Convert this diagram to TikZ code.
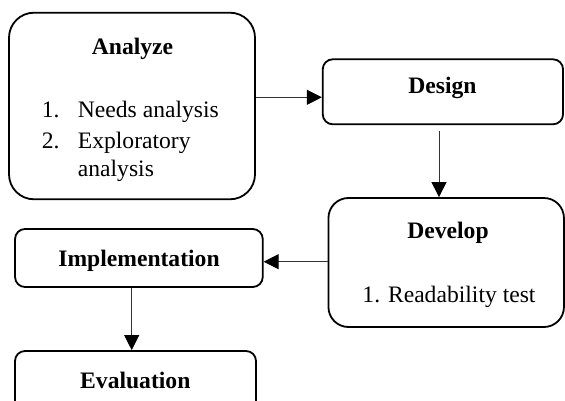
\documentclass[tikz,border=0pt]{standalone}
\usepackage{fontspec}
\setmainfont{Liberation Serif}
\usetikzlibrary{arrows.meta}

\tikzset{
  stage/.style={draw=black, line width=1.8pt, inner sep=0pt, fill=none},
  txt/.style={inner sep=0pt, anchor=base, font=\fontsize{23.6}{28}\selectfont},
  btxt/.style={txt, font=\fontsize{23.6}{28}\selectfont\bfseries},
  flow/.style={draw=black!80, line width=1pt,
    -{Triangle[length=15pt,width=15pt,color=black]}},
}

\begin{document}
\begin{tikzpicture}[x=1pt,y=-1pt]
  \useasboundingbox (0,0) rectangle (565,401);
  \clip (0,0) rectangle (565,401);

  % stage boxes
  \node[stage, rounded corners=25pt, minimum width=246pt, minimum height=186.6pt] (analyze) at (132,106) {};
  \node[stage, rounded corners=10pt, minimum width=240.3pt, minimum height=65pt] (design) at (442.9,91.8) {};
  \node[stage, rounded corners=20pt, minimum width=235.5pt, minimum height=129pt] (develop) at (446.2,262.5) {};
  \node[stage, rounded corners=10pt, minimum width=247.7pt, minimum height=58pt] (impl) at (138.9,258) {};
  \node[stage, rounded corners=10pt, minimum width=241pt, minimum height=64pt] (eval) at (135.5,383) {};

  % box texts
  \node[btxt] (analyzeT) at (132.5,54.3) {Analyze};
  \node[txt, anchor=base west] (n1) at (41.7,118) {1.};
  \node[txt, anchor=base west] (n1t) at (77.7,118) {Needs analysis};
  \node[txt, anchor=base west] (n2) at (41.7,148.3) {2.};
  \node[txt, anchor=base west] (n2t) at (77.7,148.3) {Exploratory};
  \node[txt, anchor=base west] (n2u) at (77.7,176.7) {analysis};

  \node[btxt] (designT) at (442.5,93.3) {Design};
  \node[btxt] (developT) at (448,238.3) {Develop};
  \node[txt] (developL) at (449,302.7) {1. Readability test};
  \node[btxt] (implT) at (139,266.7) {Implementation};
  \node[btxt] (evalT) at (135.3,388.3) {Evaluation};

  % connectors
  \draw[flow] ([yshift=8.7pt]analyze.east) -- ([yshift=-5.5pt]design.west);
  \draw[flow] ([xshift=-3.9pt,yshift=-5.7pt]design.south) -- ([xshift=-7.2pt]develop.north);
  \draw[flow] ([yshift=0.8pt]develop.west) -- ([yshift=-3.7pt]impl.east);
  \draw[flow] ([xshift=-7.2pt]impl.south) -- ([xshift=-3.8pt]eval.north);
\end{tikzpicture}
\end{document}
